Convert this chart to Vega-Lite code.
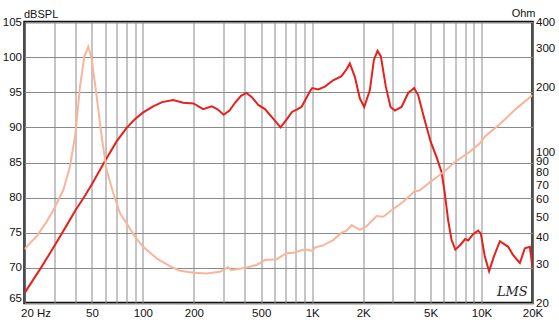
{
  "$schema": "https://vega.github.io/schema/vega-lite/v6.json",
  "width": 508,
  "height": 281,
  "autosize": "none",
  "padding": {"left": 24.5, "top": 22, "right": 26.5, "bottom": 23},
  "background": "white",
  "config": {
    "view": {"stroke": "#111111", "strokeWidth": 2.5},
    "font": "Liberation Sans",
    "axis": {"labelFont": "Liberation Sans", "titleFont": "Liberation Sans", "labelColor": "#111111", "titleColor": "#111111", "gridColor": "#8a8a8a", "gridWidth": 1, "gridOpacity": 1, "domain": false, "ticks": false}
  },
  "datasets": {
    "spl": [
      {"f": 20, "db": 66.4}, {"f": 25, "db": 70.0}, {"f": 30, "db": 73.1}, {"f": 35, "db": 75.8}, {"f": 40, "db": 78.2},
      {"f": 45, "db": 80.1}, {"f": 50, "db": 81.9}, {"f": 60, "db": 85.3}, {"f": 70, "db": 88.0}, {"f": 80, "db": 89.9},
      {"f": 90, "db": 91.2}, {"f": 100, "db": 92.1}, {"f": 115, "db": 93.0}, {"f": 130, "db": 93.6}, {"f": 151, "db": 93.9},
      {"f": 173, "db": 93.5}, {"f": 199, "db": 93.4}, {"f": 227, "db": 92.6}, {"f": 255, "db": 93.0}, {"f": 275, "db": 92.6},
      {"f": 300, "db": 91.8}, {"f": 325, "db": 92.4}, {"f": 350, "db": 93.5}, {"f": 380, "db": 94.5}, {"f": 410, "db": 94.9},
      {"f": 440, "db": 94.3}, {"f": 480, "db": 93.2}, {"f": 526, "db": 92.6}, {"f": 590, "db": 91.2}, {"f": 650, "db": 90.0},
      {"f": 700, "db": 91.0}, {"f": 760, "db": 92.2}, {"f": 820, "db": 92.6}, {"f": 865, "db": 92.9}, {"f": 968, "db": 95.1},
      {"f": 1000, "db": 95.6}, {"f": 1085, "db": 95.4}, {"f": 1188, "db": 95.8}, {"f": 1330, "db": 96.7}, {"f": 1490, "db": 97.3},
      {"f": 1600, "db": 98.3}, {"f": 1668, "db": 99.1}, {"f": 1786, "db": 97.2}, {"f": 1913, "db": 94.1}, {"f": 2029, "db": 92.9},
      {"f": 2191, "db": 95.3}, {"f": 2314, "db": 99.6}, {"f": 2432, "db": 100.9}, {"f": 2543, "db": 100.1}, {"f": 2722, "db": 95.8},
      {"f": 2902, "db": 92.9}, {"f": 3078, "db": 92.4}, {"f": 3370, "db": 92.9}, {"f": 3690, "db": 94.9}, {"f": 4000, "db": 95.6},
      {"f": 4225, "db": 94.6}, {"f": 4560, "db": 91.5}, {"f": 5000, "db": 88.0}, {"f": 5420, "db": 85.8}, {"f": 5800, "db": 83.7},
      {"f": 6070, "db": 80.6}, {"f": 6350, "db": 76.8}, {"f": 6650, "db": 74.0}, {"f": 7000, "db": 72.6}, {"f": 7520, "db": 73.3},
      {"f": 8000, "db": 74.1}, {"f": 8340, "db": 73.9}, {"f": 8920, "db": 74.8}, {"f": 9550, "db": 75.3}, {"f": 9900, "db": 74.9},
      {"f": 10460, "db": 71.6}, {"f": 11080, "db": 69.5}, {"f": 11820, "db": 71.6}, {"f": 12840, "db": 73.8}, {"f": 14370, "db": 73.0},
      {"f": 15380, "db": 71.8}, {"f": 16840, "db": 70.7}, {"f": 18030, "db": 72.8}, {"f": 19290, "db": 73.0}, {"f": 20000, "db": 70.0}
    ],
    "imp": [
      {"f": 20, "ohm": 35.5}, {"f": 23.6, "ohm": 40.8}, {"f": 27, "ohm": 47.5}, {"f": 30, "ohm": 54.9}, {"f": 33.9, "ohm": 66.7},
      {"f": 37.1, "ohm": 85.5}, {"f": 40, "ohm": 122}, {"f": 42.5, "ohm": 200}, {"f": 45.1, "ohm": 276}, {"f": 47.6, "ohm": 307},
      {"f": 49.8, "ohm": 272}, {"f": 53.4, "ohm": 180}, {"f": 57.1, "ohm": 118}, {"f": 61.1, "ohm": 82.5}, {"f": 66.9, "ohm": 64.4},
      {"f": 73.3, "ohm": 52.0}, {"f": 80, "ohm": 46.8}, {"f": 89.8, "ohm": 40.6}, {"f": 100, "ohm": 36.5}, {"f": 120.6, "ohm": 32.2},
      {"f": 144, "ohm": 29.6}, {"f": 165.6, "ohm": 28.2}, {"f": 200, "ohm": 27.6}, {"f": 238, "ohm": 27.4}, {"f": 285, "ohm": 27.9},
      {"f": 319, "ohm": 29.3}, {"f": 333, "ohm": 28.4}, {"f": 410, "ohm": 29.2}, {"f": 470, "ohm": 30.0}, {"f": 526, "ohm": 31.6},
      {"f": 617, "ohm": 31.9}, {"f": 706, "ohm": 34.0}, {"f": 775, "ohm": 34.2}, {"f": 906, "ohm": 35.5}, {"f": 1000, "ohm": 34.9},
      {"f": 1038, "ohm": 36.1}, {"f": 1161, "ohm": 37.0}, {"f": 1330, "ohm": 39.1}, {"f": 1490, "ohm": 42.3}, {"f": 1596, "ohm": 43.2},
      {"f": 1710, "ohm": 45.9}, {"f": 1913, "ohm": 43.6}, {"f": 2094, "ohm": 45.4}, {"f": 2400, "ohm": 50.5}, {"f": 2625, "ohm": 50.2},
      {"f": 3000, "ohm": 54.3}, {"f": 3445, "ohm": 58.9}, {"f": 4000, "ohm": 65.5}, {"f": 4325, "ohm": 66.5}, {"f": 5000, "ohm": 72.9},
      {"f": 6000, "ohm": 81.1}, {"f": 7000, "ohm": 90.2}, {"f": 8530, "ohm": 100.3}, {"f": 9770, "ohm": 109.7}, {"f": 10460, "ohm": 117.8},
      {"f": 12840, "ohm": 134.8}, {"f": 16100, "ohm": 159.3}, {"f": 20000, "ohm": 183.6}
    ],
    "mark": [{"f": 15200, "db": 66.6, "label": "LMS"}]
  },
  "layer": [
    {
      "data": {"name": "spl"},
      "mark": {"type": "line", "color": "#e8201c", "strokeWidth": 2, "clip": true},
      "encoding": {
        "x": {"field": "f", "type": "quantitative", "scale": {"type": "log", "domain": [20, 20000], "nice": false},
          "axis": {"orient": "bottom", "title": null, "grid": true, "labelFontSize": 11.5, "labelPadding": 4, "labelOverlap": false,
            "values": [20,30,40,50,60,70,80,90,100,200,300,400,500,600,700,800,900,1000,2000,3000,4000,5000,6000,7000,8000,9000,10000,20000],
            "labelExpr": "datum.value == 20 ? '20  Hz' : datum.value == 50 ? '50' : datum.value == 100 ? '100' : datum.value == 200 ? '200' : datum.value == 500 ? '500' : datum.value == 1000 ? '1K' : datum.value == 2000 ? '2K' : datum.value == 5000 ? '5K' : datum.value == 10000 ? '10K' : datum.value == 20000 ? '20K' : ''",
            "labelAlign": {"condition": {"test": "datum.value == 20", "value": "left"}, "value": "center"},
            "labelOffset": {"condition": {"test": "datum.value == 20", "value": -4}, "value": 0}}},
        "y": {"field": "db", "type": "quantitative", "scale": {"domain": [65, 105], "nice": false},
          "axis": {"orient": "left", "grid": true, "values": [65,70,75,80,85,90,95,100,105], "labelFontSize": 11.5, "labelPadding": 3,
            "labelOffset": {"condition": {"test": "datum.value == 65", "value": -5}, "value": 0},
            "title": "dBSPL", "titleAngle": 0, "titleAlign": "left", "titleBaseline": "alphabetic", "titleX": -1, "titleY": -5,
            "titleFontSize": 11, "titleFontWeight": "normal"}}
      }
    },
    {
      "data": {"name": "imp"},
      "mark": {"type": "line", "color": "#f9b59a", "strokeWidth": 2, "clip": true},
      "encoding": {
        "x": {"field": "f", "type": "quantitative"},
        "y": {"field": "ohm", "type": "quantitative", "scale": {"type": "log", "domain": [20, 400], "nice": false},
          "axis": {"orient": "right", "grid": false, "values": [20,30,40,50,60,70,80,90,100,200,300,400], "labelFontSize": 11.5, "labelPadding": 3,
            "labelOverlap": false, "format": "d", "title": "Ohm", "titleAngle": 0, "titleAlign": "right", "titleBaseline": "alphabetic",
            "titleX": 2.5, "titleY": -6, "titleFontSize": 11, "titleFontWeight": "normal"}}
      }
    },
    {
      "data": {"name": "mark"},
      "mark": {"type": "text", "font": "DejaVu Serif", "fontStyle": "italic", "fontSize": 13, "color": "#222222", "align": "center", "baseline": "middle"},
      "encoding": {
        "x": {"field": "f", "type": "quantitative"},
        "y": {"field": "db", "type": "quantitative", "scale": {"domain": [65, 105], "nice": false}, "axis": null},
        "text": {"field": "label"}
      }
    }
  ],
  "resolve": {"scale": {"y": "independent"}, "axis": {"y": "independent"}}
}
